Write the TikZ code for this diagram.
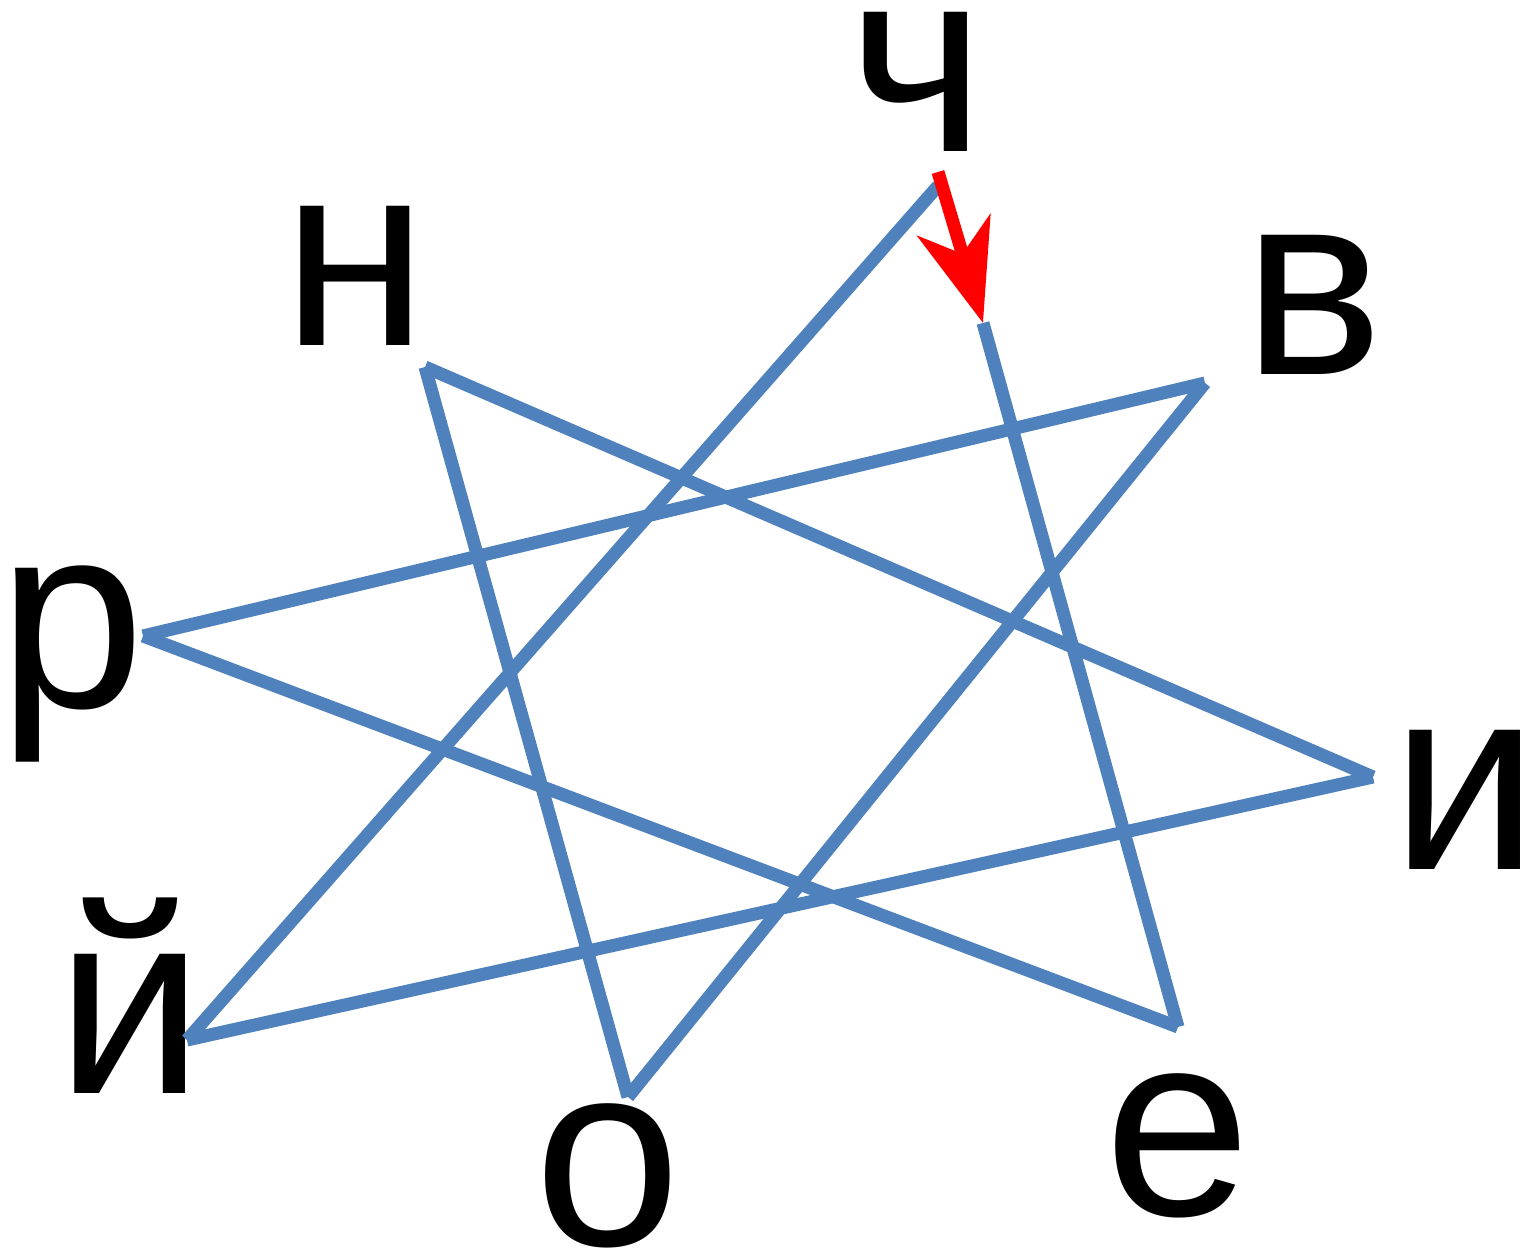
\documentclass[tikz,border=0pt]{standalone}
\usepackage{fontspec}
\setmainfont{Liberation Sans}
\usetikzlibrary{arrows.meta}
\definecolor{starblue}{RGB}{79,129,189}
\definecolor{arrowred}{RGB}{255,0,0}

\begin{document}
\begin{tikzpicture}[x=1cm,y=1cm,
    letter/.style={inner sep=0pt, anchor=base, font=\fontsize{75}{90}\selectfont},
    edge/.style={line width=0.13cm, color=starblue},
    pointer/.style={line width=0.13cm, color=arrowred,
                    -{Stealth[length=1.02cm, width=0.76cm, inset=0.3cm]}}
]
\useasboundingbox (0,0) rectangle (15.23,-12.51);
% star corners
\coordinate (pch) at (9.38,-1.86);
\coordinate (pv)  at (12.05,-3.83);
\coordinate (pi)  at (13.73,-7.77);
\coordinate (pe)  at (11.78,-10.27);
\coordinate (po)  at (6.28,-10.97);
\coordinate (pj)  at (1.87,-10.40);
\coordinate (pr)  at (1.43,-6.36);
\coordinate (pn)  at (4.25,-3.67);
\coordinate (gap) at (9.83,-3.23);
\coordinate (top) at (9.38,-1.72);
% letters
\node[letter] (ch) at (9.17,-1.52)  {ч};
\node[letter] (n)  at (3.55,-3.46)  {н};
\node[letter] (v)  at (13.14,-3.75) {в};
\node[letter] (r)  at (0.72,-7.08)  {р};
\node[letter] (i)  at (14.65,-8.70) {и};
\node[letter] (j)  at (1.30,-10.94) {й};
\node[letter] (o)  at (6.08,-12.46) {о};
\node[letter] (e)  at (11.78,-12.16) {е};
% lines
\draw[edge] (pch) -- (pj);
\draw[edge] (pj) -- (pi);
\draw[edge] (pi) -- (pn);
\draw[edge] (pn) -- (po);
\draw[edge] (po) -- (pv);
\draw[edge] (pv) -- (pr);
\draw[edge] (pr) -- (pe);
\draw[edge] (pe) -- (gap);
\draw[pointer] (top) -- (gap);
\end{tikzpicture}
\end{document}
